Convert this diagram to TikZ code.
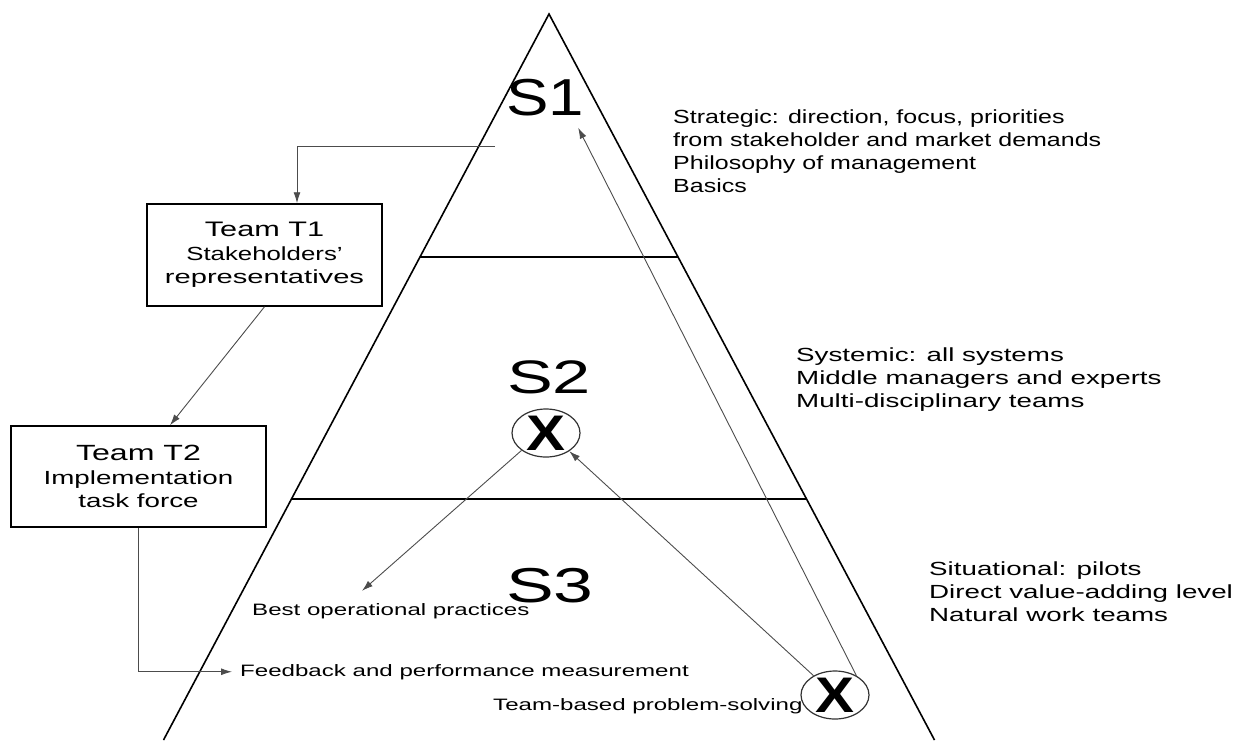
\documentclass[tikz,border=0pt]{standalone}
\usepackage{fontspec}
\setmainfont{Liberation Sans}[FakeStretch=1.46]
\newfontfamily\topfont{Liberation Sans}[FakeStretch=1.316]
\usetikzlibrary{arrows.meta,shapes.geometric,calc}
\begin{document}
\begin{tikzpicture}[x=1pt,y=-1pt,
  conn/.style={draw=black!70,line width=0.9pt,-{Latex[length=11pt,width=7pt]}},
  teambox/.style={draw,line width=1.5pt,minimum width=235pt,minimum height=102pt,
    align=center,inner sep=0pt,font=\fontsize{19}{23.5}\selectfont},
  level/.style={font=\fontsize{50}{50}\selectfont,inner sep=0pt,anchor=base},
  note/.style={font=\fontsize{19}{22.7}\selectfont,align=left,anchor=base west,inner sep=0pt},
  small/.style={font=\fontsize{16.5}{20}\selectfont,anchor=base west,inner sep=0pt},
  hub/.style={ellipse,draw=black!80,line width=1.2pt,minimum width=68pt,
    minimum height=48pt,inner sep=0pt},
  hubmark/.style={font=\fontsize{50}{50}\selectfont\bfseries,inner sep=0pt}
]
\useasboundingbox (0,0) rectangle (1245,740);

% the pyramid and its three levels
\coordinate (apex) at (549,14);
\coordinate (bl) at (163.5,740);
\coordinate (br) at (934.5,740);
\draw[line width=1.6pt] (bl) -- (apex) -- (br);
\draw[line width=1.2pt] ($(apex)!{243/726}!(bl)$) -- ($(apex)!{243/726}!(br)$);
\draw[line width=1.2pt] ($(apex)!{485/726}!(bl)$) -- ($(apex)!{485/726}!(br)$);

\node[level,font=\fontsize{52}{52}\topfont] (s1) at (545,115) {\scalebox{0.93}[1]{S1}};
\node[level,font=\fontsize{47}{47}\selectfont] (s2) at (549,393) {S2};
\node[level,font=\fontsize{49}{49}\selectfont] (s3) at (550,602) {S3};

% hubs marked with a cross
\node[hub] (e2) at (546,433) {};
\node[hubmark] (x2) at (e2) {\scalebox{0.8}[1]{X}};
\node[hub] (e3) at (835,695) {};
\node[hubmark] (x3) at (e3) {\scalebox{0.8}[1]{X}};

% level descriptions
\node[note,font=\fontsize{19}{22.7}\topfont] (strat) at (673,192) {Strategic: direction, focus, priorities\\from stakeholder and market demands\\Philosophy of management\\Basics};
\node[note] (syst) at (796,407) {Systemic: all systems\\Middle managers and experts\\Multi-disciplinary teams};
\node[note] (situ) at (929,621) {Situational: pilots\\Direct value-adding level\\Natural work teams};

% labels inside the lowest level
\node[small] (bp) at (252,615) {Best operational practices};
\node[small] (fb) at (240,676) {Feedback and performance measurement};
\node[small] (tb) at (493,710) {Team-based problem-solving};

% teams
\node[teambox] (t1) at (264.5,255) {{\fontsize{21}{23.5}\selectfont Team T1}\\\scalebox{0.93}[1]{Stakeholders'}\\\scalebox{1.05}[1]{representatives}};
\node[teambox,minimum width=255pt,minimum height=101pt] (t2) at (138.5,476.5) {{\fontsize{22}{23.5}\selectfont Team T2}\\Implementation\\task force};

% connectors
\coordinate (s1out) at (495,146);
\coordinate (s1tip) at ($(s1.south east)+(-6,12)$);
\coordinate (bptip) at ($(bp.north west)+(110,-12)$);
\draw[conn] (s1out) -| ([xshift=32.5pt]t1.north);
\draw[conn] (t1.south) -- ([xshift=31.5pt]t2.north);
\draw[conn] (t2.south) |- ([xshift=-8pt]fb.west);
\draw[conn] (e2.south west) -- (bptip);
\draw[conn] (e3.138) -- (e2.322);
\draw[conn] (e3.42) -- (s1tip);
\end{tikzpicture}
\end{document}
